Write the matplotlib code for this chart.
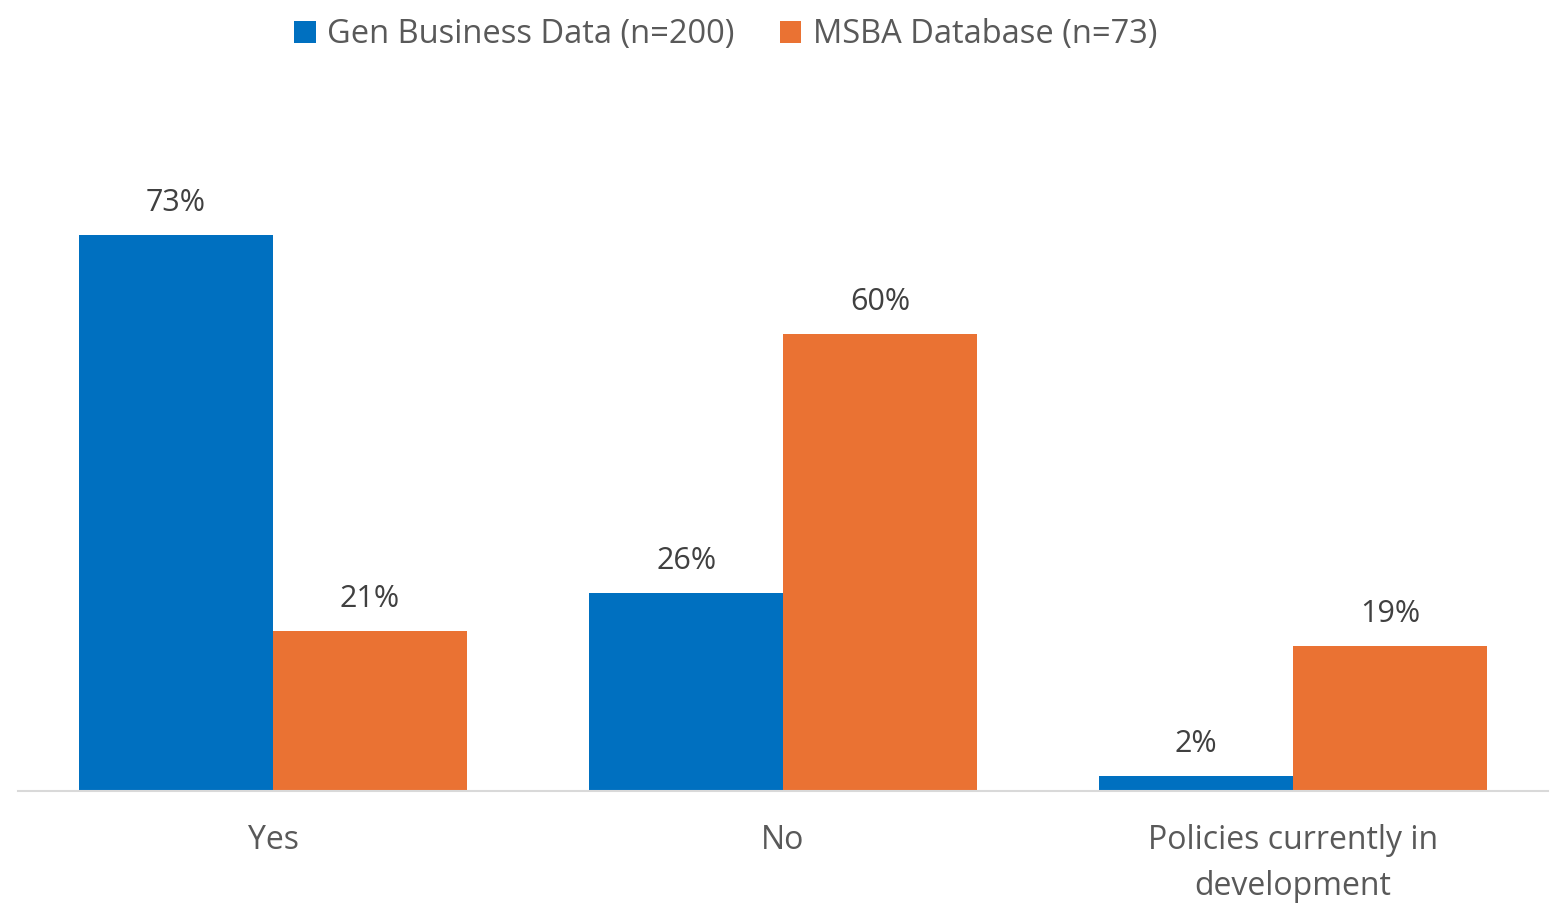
import matplotlib
matplotlib.use('Agg')
import matplotlib.pyplot as plt
import numpy as np

# Chart data
categories = ['Yes', 'No', 'Policies currently in\ndevelopment']
gen_business = [73, 26, 2]
msba = [21, 60, 19]
series_names = ['Gen Business Data (n=200)', 'MSBA Database (n=73)']

blue = '#0070C0'
orange = '#EA7233'
text_color = '#595959'

plt.rcParams['font.family'] = ['Open Sans', 'DejaVu Sans']

fig = plt.figure(figsize=(15.54, 9.07), dpi=100)
ax = fig.add_axes([18 / 1554, 116 / 907, 1530 / 1554, 691 / 907])

x = np.arange(len(categories))
width = 0.38

bars1 = ax.bar(x - width / 2, gen_business, width, color=blue, label=series_names[0])
bars2 = ax.bar(x + width / 2, msba, width, color=orange, label=series_names[1])

# Value labels above bars
for bars in (bars1, bars2):
    for b in bars:
        ax.text(b.get_x() + b.get_width() / 2, b.get_height() + 2.2,
                f'{int(b.get_height())}%', ha='center', va='bottom',
                fontsize=22, color='#404040')

ax.set_xlim(-0.5, 2.5)
ax.set_ylim(0, 90.7)
ax.set_xticks(x)
ax.set_xticklabels(categories, fontsize=23, color=text_color, linespacing=1.5)
ax.tick_params(axis='x', length=0, pad=24)
ax.set_yticks([])

for side in ['top', 'right', 'left']:
    ax.spines[side].set_visible(False)
ax.spines['bottom'].set_color('#D9D9D9')
ax.spines['bottom'].set_linewidth(1.5)

leg = fig.legend(loc='upper center', bbox_to_anchor=(0.467, 1.012), ncol=2,
                 frameon=False, fontsize=23.5, handlelength=0.65, handleheight=0.65,
                 handletextpad=0.35, columnspacing=1.4)
for t in leg.get_texts():
    t.set_color(text_color)

plt.savefig('out.png', dpi=100)
